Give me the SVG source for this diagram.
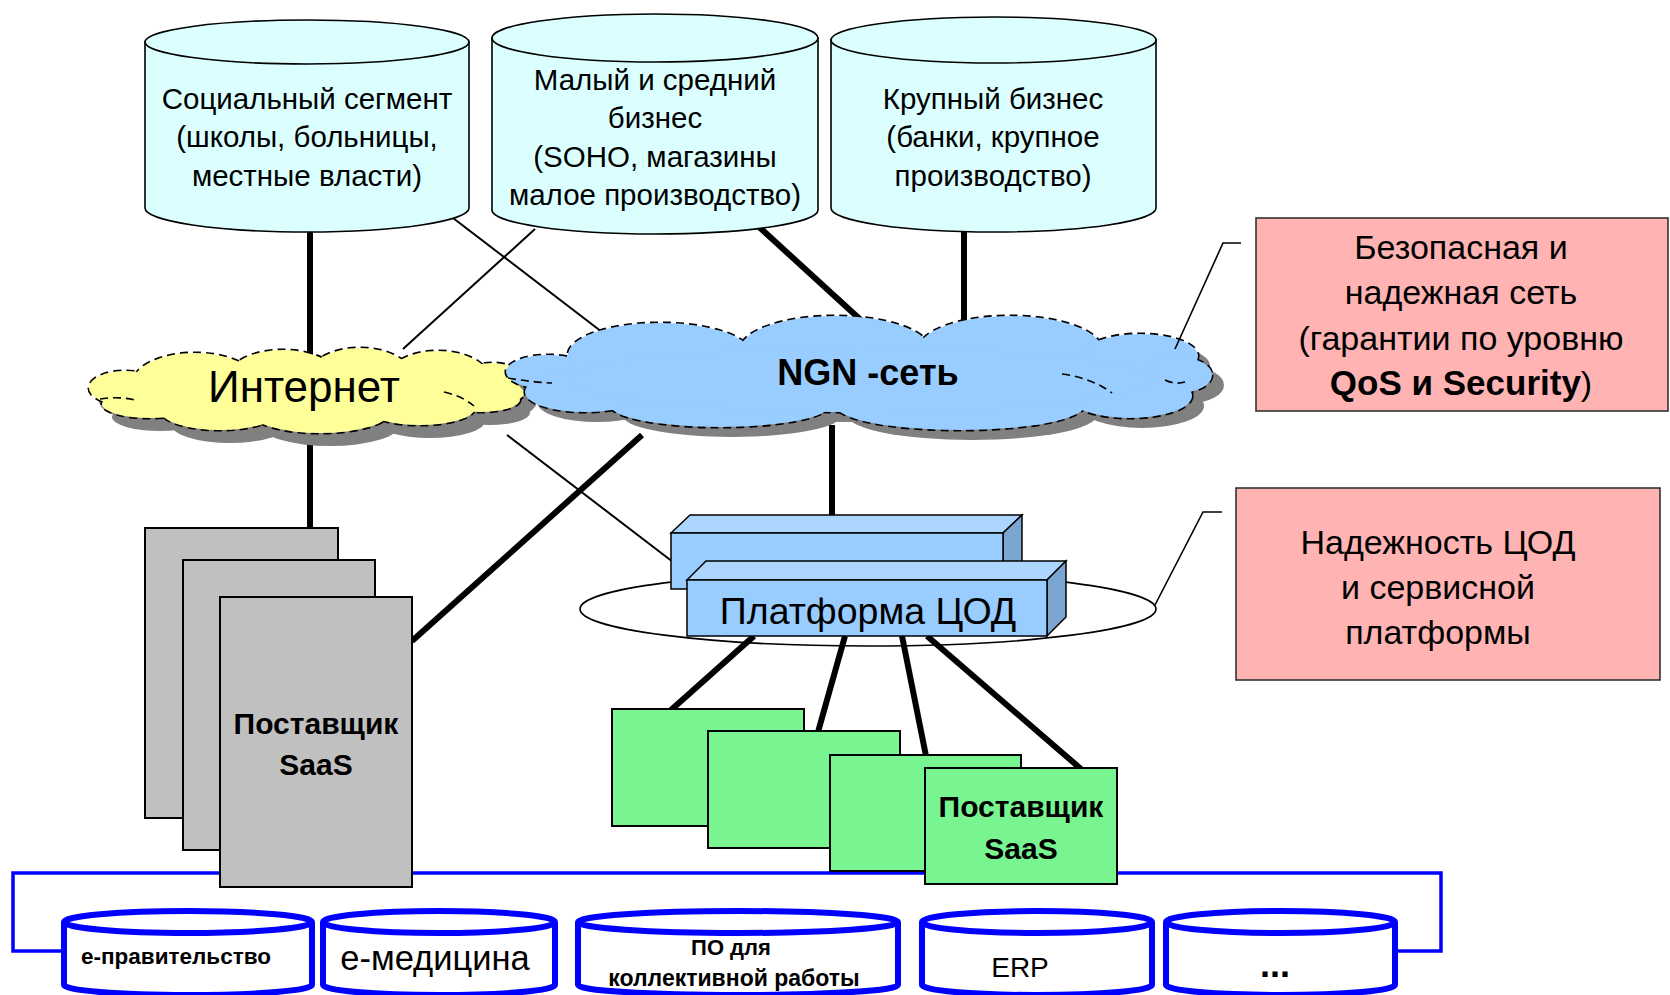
<svg xmlns="http://www.w3.org/2000/svg" xmlns:xlink="http://www.w3.org/1999/xlink" width="1670" height="995" viewBox="0 0 1670 995">
  <style>
    text { font-family: "Liberation Sans", Arial, sans-serif; fill: #000; text-anchor: middle; }
    .seg { fill: #DBFFFF; stroke: #000; stroke-width: 1.6; }
    .note { fill: #FFB3B3; stroke: #333; stroke-width: 1.6; }
    .saas-gray { fill: #C0C0C0; stroke: #000; stroke-width: 2; }
    .saas-green { fill: #78F590; stroke: #000; stroke-width: 2; }
    .app { fill: #fff; stroke: #0000FF; stroke-width: 6; }
    .thick { stroke: #000; stroke-width: 6; fill: none; }
    .thin { stroke: #000; stroke-width: 2; fill: none; }
    .callout { stroke: #000; stroke-width: 1.6; fill: none; }
    .bus { stroke: #0000FF; stroke-width: 3.5; fill: none; }
    .t29 { font-size: 29.5px; }
    .t34 { font-size: 34px; }
    .t30 { font-size: 30px; }
    .bold { font-weight: bold; }
  </style>
  <defs>
    <!-- cloud bodies as unions of ellipses; paint comes from the <use> -->
    <g id="inetShape">
      <ellipse cx="125" cy="388" rx="36" ry="17"/>
      <ellipse cx="195" cy="383" rx="62" ry="30"/>
      <ellipse cx="283" cy="378" rx="55" ry="28"/>
      <ellipse cx="360" cy="377" rx="52" ry="29"/>
      <ellipse cx="438" cy="380" rx="52" ry="29"/>
      <ellipse cx="492" cy="385" rx="36" ry="22"/>
      <ellipse cx="150" cy="404" rx="48" ry="14"/>
      <ellipse cx="220" cy="410" rx="60" ry="20"/>
      <ellipse cx="320" cy="412" rx="70" ry="21"/>
      <ellipse cx="420" cy="408" rx="55" ry="17"/>
      <ellipse cx="480" cy="400" rx="40" ry="12"/>
    </g>
    <g id="ngnShape">
      <ellipse cx="548" cy="372" rx="42" ry="17"/>
      <ellipse cx="660" cy="355" rx="92" ry="32"/>
      <ellipse cx="835" cy="350" rx="95" ry="34"/>
      <ellipse cx="1010" cy="350" rx="92" ry="34"/>
      <ellipse cx="1140" cy="356" rx="58" ry="22"/>
      <ellipse cx="1178" cy="375" rx="34" ry="18"/>
      <ellipse cx="1130" cy="396" rx="62" ry="22"/>
      <ellipse cx="960" cy="405" rx="125" ry="25"/>
      <ellipse cx="720" cy="405" rx="110" ry="22"/>
      <ellipse cx="585" cy="392" rx="60" ry="20"/>
      <ellipse cx="860" cy="380" rx="290" ry="32"/>
    </g>
  </defs>

  <rect width="1670" height="995" fill="#fff"/>

  <!-- connectors -->
  <g id="connectors">
    <line class="thick" x1="310" y1="228" x2="310" y2="360"/>
    <line class="thin" x1="453" y1="218" x2="602" y2="332"/>
    <line class="thin" x1="535" y1="229" x2="403" y2="349"/>
    <line class="thick" x1="758" y1="226" x2="863" y2="322"/>
    <line class="thick" x1="964" y1="228" x2="964" y2="322"/>
    <line class="thick" x1="310" y1="425" x2="310" y2="530"/>
    <line class="thin" x1="507" y1="435" x2="673" y2="562"/>
    <line class="thick" x1="642" y1="435" x2="412" y2="641"/>
    <line class="thick" x1="832" y1="425" x2="832" y2="518"/>
    <line class="thick" x1="754" y1="636" x2="671" y2="710"/>
    <line class="thick" x1="845" y1="636" x2="818" y2="732"/>
    <line class="thick" x1="902" y1="636" x2="926" y2="756"/>
    <line class="thick" x1="927" y1="636" x2="1081" y2="769"/>
    <!-- blue service bus -->
    <polyline class="bus" points="64,951 13,951 13,873 1441,873 1441,951 1395,951"/>
  </g>

  <!-- customer segments -->
  <g id="seg-social">
    <path class="seg" d="M145,42 L145,208 A162,24 0 0 0 469,208 L469,42 Z"/>
    <ellipse class="seg" cx="307" cy="42" rx="162" ry="22"/>
    <text class="t29" x="307" y="109">Социальный сегмент</text>
    <text class="t29" x="307" y="147">(школы, больницы,</text>
    <text class="t29" x="307" y="186">местные власти)</text>
  </g>
  <g id="seg-smb">
    <path class="seg" d="M492,38 L492,210 A163,24 0 0 0 818,210 L818,38 Z"/>
    <ellipse class="seg" cx="655" cy="38" rx="163" ry="24"/>
    <text class="t29" x="655" y="90">Малый и средний</text>
    <text class="t29" x="655" y="128">бизнес</text>
    <text class="t29" x="655" y="167">(SOHO, магазины</text>
    <text class="t29" x="655" y="205">малое производство)</text>
  </g>
  <g id="seg-large">
    <path class="seg" d="M831,40 L831,208 A162.5,24 0 0 0 1156,208 L1156,40 Z"/>
    <ellipse class="seg" cx="993.5" cy="40" rx="162.5" ry="23"/>
    <text class="t29" x="993" y="109">Крупный бизнес</text>
    <text class="t29" x="993" y="147">(банки, крупное</text>
    <text class="t29" x="993" y="186">производство)</text>
  </g>

  <!-- Internet cloud -->
  <g id="internet">
    <use xlink:href="#inetShape" transform="translate(10,13)" fill="#808080"/>
    <use xlink:href="#inetShape" fill="none" stroke="#000" stroke-width="3.2" stroke-dasharray="8 5"/>
    <use xlink:href="#inetShape" fill="#FFFF99"/>
    <path d="M100,399 Q118,396 135,400 M444,392 Q462,396 474,406" fill="none" stroke="#000" stroke-width="1.6" stroke-dasharray="8 5"/>
    <text x="304" y="402" style="font-size:44px">Интернет</text>
  </g>

  <!-- NGN cloud -->
  <g id="ngn">
    <use xlink:href="#ngnShape" transform="translate(12,10)" fill="#808080"/>
    <use xlink:href="#ngnShape" fill="none" stroke="#000" stroke-width="3.2" stroke-dasharray="8 5"/>
    <use xlink:href="#ngnShape" fill="#99CCFF"/>
    <path d="M508,378 Q530,382 552,383 M1062,374 Q1092,378 1112,393 M1165,380 Q1175,385 1185,382" fill="none" stroke="#000" stroke-width="1.6" stroke-dasharray="8 5"/>
    <text class="bold" x="868" y="385" style="font-size:36px">NGN -сеть</text>
  </g>

  <!-- callout leaders -->
  <g id="callouts">
    <polyline class="callout" points="1175,349 1223,243 1241,243"/>
    <polyline class="callout" points="1155,605 1203,512 1222,512"/>
  </g>

  <!-- notes -->
  <g id="note-network">
    <rect class="note" x="1256" y="218" width="412" height="193"/>
    <text class="t34" x="1461" y="259">Безопасная и</text>
    <text class="t34" x="1461" y="304">надежная сеть</text>
    <text class="t34" x="1461" y="350">(гарантии по уровню</text>
    <text class="t34" x="1461" y="395"><tspan font-weight="bold" style="font-size:35px">QoS и Security</tspan>)</text>
  </g>
  <g id="note-dc">
    <rect class="note" x="1236" y="488" width="424" height="192"/>
    <text class="t34" x="1438" y="554">Надежность ЦОД</text>
    <text class="t34" x="1438" y="599">и сервисной</text>
    <text class="t34" x="1438" y="644">платформы</text>
  </g>

  <!-- data centre platform -->
  <g id="platform">
    <ellipse cx="868" cy="609" rx="288" ry="37" fill="none" stroke="#000" stroke-width="1.6"/>
    <polygon points="671,533 690,515 1022,515 1003,533" fill="#ADD6FF" stroke="#000" stroke-width="1.5"/>
    <polygon points="1003,533 1022,515 1022,570 1003,589" fill="#7BA6D1" stroke="#000" stroke-width="1.5"/>
    <rect x="671" y="533" width="332" height="56" fill="#99CCFF" stroke="#000" stroke-width="1.5"/>
    <polygon points="687,580 706,561 1066,561 1047,580" fill="#ADD6FF" stroke="#000" stroke-width="1.5"/>
    <polygon points="1047,580 1066,561 1066,617 1047,636" fill="#7BA6D1" stroke="#000" stroke-width="1.5"/>
    <rect x="687" y="580" width="360" height="56" fill="#99CCFF" stroke="#000" stroke-width="1.5"/>
    <text x="868" y="624" style="font-size:37.5px">Платформа ЦОД</text>
  </g>

  <!-- SaaS providers on the Internet side -->
  <g id="saas-internet">
    <rect class="saas-gray" x="145" y="528" width="193" height="290"/>
    <rect class="saas-gray" x="183" y="560" width="192" height="290"/>
    <rect class="saas-gray" x="220" y="597" width="192" height="290"/>
    <text class="t30 bold" x="316" y="734">Поставщик</text>
    <text class="t30 bold" x="316" y="775">SaaS</text>
  </g>

  <!-- SaaS providers hosted on the platform -->
  <g id="saas-platform">
    <rect class="saas-green" x="612" y="709" width="192" height="117"/>
    <rect class="saas-green" x="708" y="731" width="192" height="117"/>
    <rect class="saas-green" x="830" y="755" width="191" height="116"/>
    <rect class="saas-green" x="925" y="768" width="192" height="116"/>
    <text class="t30 bold" x="1021" y="817">Поставщик</text>
    <text class="t30 bold" x="1021" y="859">SaaS</text>
  </g>

  <!-- applications -->
  <g id="app-egov">
    <path class="app" d="M64,922 L64,985 A124,10 0 0 0 312,985 L312,922"/>
    <ellipse class="app" cx="188" cy="922" rx="124" ry="11"/>
    <text class="bold" x="176" y="964" style="font-size:22.5px">е-правительство</text>
  </g>
  <g id="app-emed">
    <path class="app" d="M323,922 L323,985 A116,10 0 0 0 555,985 L555,922"/>
    <ellipse class="app" cx="439" cy="922" rx="116" ry="11"/>
    <text x="435" y="970" style="font-size:34.5px">е-медицина</text>
  </g>
  <g id="app-collab">
    <path class="app" d="M578,922 L578,985 A160,10 0 0 0 898,985 L898,922"/>
    <ellipse class="app" cx="738" cy="922" rx="160" ry="11"/>
    <text class="bold" x="731" y="955" style="font-size:22px">ПО для</text>
    <text class="bold" x="734" y="986" style="font-size:23px">коллективной работы</text>
  </g>
  <g id="app-erp">
    <path class="app" d="M922,922 L922,985 A115,10 0 0 0 1152,985 L1152,922"/>
    <ellipse class="app" cx="1037" cy="922" rx="115" ry="11"/>
    <text x="1020" y="977" style="font-size:28px">ERP</text>
  </g>
  <g id="app-more">
    <path class="app" d="M1166,922 L1166,985 A114.5,10 0 0 0 1395,985 L1395,922"/>
    <ellipse class="app" cx="1280.5" cy="922" rx="114.5" ry="11"/>
    <text class="bold" x="1275" y="977" style="font-size:36px">...</text>
  </g>
</svg>
